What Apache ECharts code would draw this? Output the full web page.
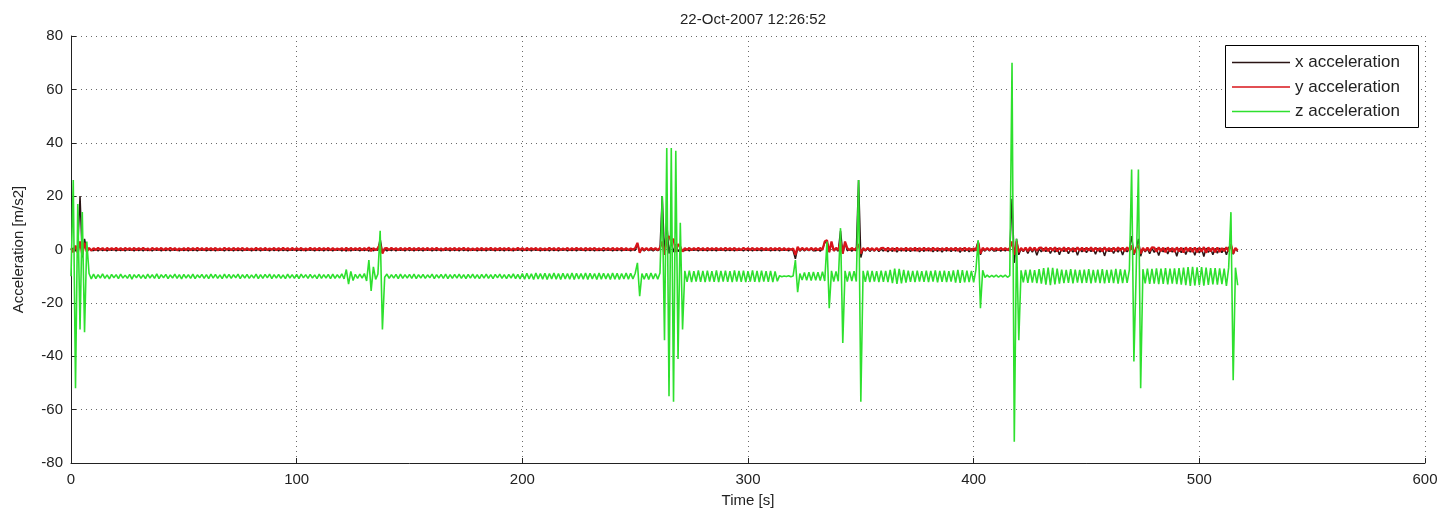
<!DOCTYPE html>
<html><head><meta charset="utf-8">
<script src="https://cdn.jsdelivr.net/npm/echarts@6/dist/echarts.min.js"></script>
<style>html,body{margin:0;padding:0;background:#fff}#c{width:1443px;height:513px}</style>
</head><body><div id="c"></div>
<script>
const titleText = '22-Oct-2007 12:26:52';
const xAxisName = 'Time [s]';
const yAxisName = 'Acceleration [m/s2]';
const seriesNames = ['x acceleration', 'y acceleration', 'z acceleration'];
const sampleStep = 1; // seconds between samples, sample i is at time i*sampleStep
const xTicks = [0, 100, 200, 300, 400, 500, 600];
const yTicks = [-80, -60, -40, -20, 0, 20, 40, 60, 80];

const xAcc = [
-0.3,0.5,-0.6,0.8,20.0,-3.0,4.0,-0.5,0.2,-0.4,
-0.4,0.1,-0.5,0.2,-0.4,0.0,-0.5,0.1,-0.3,0.1,
-0.5,0.0,-0.4,0.2,-0.5,0.1,-0.3,0.0,-0.5,0.2,
-0.4,0.1,-0.5,0.2,-0.4,0.0,-0.5,0.1,-0.3,0.1,
-0.5,0.0,-0.4,0.2,-0.5,0.1,-0.3,0.0,-0.5,0.2,
-0.4,0.1,-0.5,0.2,-0.4,0.0,-0.5,0.1,-0.3,0.1,
-0.5,0.0,-0.4,0.2,-0.5,0.1,-0.3,0.0,-0.5,0.2,
-0.4,0.1,-0.5,0.2,-0.4,0.0,-0.5,0.1,-0.3,0.1,
-0.5,0.0,-0.4,0.2,-0.5,0.1,-0.3,0.0,-0.5,0.2,
-0.4,0.1,-0.5,0.2,-0.4,0.0,-0.5,0.1,-0.3,0.1,
-0.5,0.0,-0.4,0.2,-0.5,0.1,-0.3,0.0,-0.5,0.2,
-0.4,0.1,-0.5,0.2,-0.4,0.0,-0.5,0.1,-0.3,0.1,
-0.5,0.0,-0.6,0.3,-0.5,0.1,-0.3,0.0,-0.5,0.2,
-0.4,0.1,-0.6,0.5,-0.5,0.1,-0.3,4.0,-1.0,0.1,
-0.5,0.0,-0.4,0.2,-0.5,0.1,-0.3,0.0,-0.5,0.2,
-0.4,0.1,-0.5,0.2,-0.4,0.0,-0.5,0.1,-0.3,0.1,
-0.5,0.0,-0.4,0.2,-0.5,0.1,-0.3,0.0,-0.5,0.2,
-0.4,0.1,-0.5,0.2,-0.4,0.0,-0.5,0.1,-0.3,0.1,
-0.5,0.0,-0.4,0.2,-0.5,0.1,-0.3,0.0,-0.5,0.2,
-0.4,0.1,-0.5,0.2,-0.4,0.0,-0.5,0.1,-0.3,0.1,
-0.5,0.0,-0.4,0.2,-0.5,0.1,-0.3,0.0,-0.5,0.2,
-0.4,0.1,-0.5,0.2,-0.4,0.0,-0.5,0.1,-0.3,0.1,
-0.5,0.0,-0.4,0.2,-0.5,0.1,-0.3,0.0,-0.5,0.2,
-0.4,0.1,-0.5,0.2,-0.4,0.0,-0.5,0.1,-0.3,0.1,
-0.5,0.0,-0.4,0.2,-0.5,0.1,-0.3,0.0,-0.5,0.2,
-0.4,2.0,-0.8,0.1,-0.5,0.2,-0.4,0.0,-0.5,0.1,
-0.4,0.1,20.0,-2.0,10.0,-1.5,3.0,-1.0,2.0,-0.8,
0.5,-0.6,-0.4,0.2,-0.5,0.1,-0.3,0.0,-0.5,0.2,
-0.4,0.1,-0.5,0.2,-0.4,0.0,-0.5,0.1,-0.3,0.1,
-0.5,0.0,-0.4,0.2,-0.5,0.1,-0.3,0.0,-0.5,0.2,
-0.4,0.1,-0.5,0.2,-0.4,0.0,-0.5,0.1,-0.3,0.1,
-0.5,0.0,-0.4,0.2,-0.5,0.1,-0.3,0.0,-0.5,0.2,
-0.5,-3.5,0.5,-0.6,0.2,-0.5,0.1,-0.4,0.2,-0.5,
-0.5,0.1,-0.6,0.2,2.5,3.0,-1.0,2.5,-0.5,0.2,
-0.6,7.0,-1.5,2.5,-0.5,0.1,-0.6,0.2,-0.5,26.0,
-3.0,0.2,-0.5,0.3,-0.7,0.2,-0.6,0.3,-0.8,0.2,
-0.6,0.3,-0.9,0.2,-0.7,0.4,-1.0,0.2,-0.6,0.3,
-0.7,0.2,-0.8,0.3,-0.6,0.4,-0.9,0.2,-0.7,0.3,
-0.6,0.3,-0.9,0.2,-0.7,0.4,-1.0,0.2,-0.6,0.3,
-0.8,0.2,-0.6,0.3,-1.1,0.4,-0.7,0.2,-0.9,0.3,
-0.7,0.3,3.0,-2.0,0.2,-0.6,0.3,-0.5,0.2,-0.6,
-0.5,0.2,-0.6,0.1,-0.5,0.2,-0.6,19.0,-5.0,4.0,
-2.0,0.3,-0.8,0.4,-1.5,0.3,-1.0,0.5,-2.2,0.3,
-0.9,0.4,-0.8,0.4,-1.5,0.3,-1.0,0.5,-2.0,0.3,
-0.8,0.4,-1.6,0.3,-1.0,0.5,-2.2,0.3,-0.9,0.4,
-1.2,0.4,-0.8,0.3,-1.8,0.5,-1.0,0.4,-2.4,0.3,
-0.8,0.4,-1.5,0.3,-1.0,0.5,-2.1,0.3,-0.9,0.4,
5.0,-2.0,0.3,4.0,-2.5,0.4,-0.9,0.3,-1.6,0.5,
-1.1,0.4,-2.3,0.3,-0.9,0.5,-1.7,0.4,-1.0,0.3,
-2.5,0.4,-1.2,0.5,-1.9,0.3,-1.0,0.4,-2.2,0.5,
-1.3,0.4,-2.6,0.5,-1.1,0.3,-2.0,0.4,-1.4,0.5,
-1.2,0.5,-2.0,0.6,2.0,-1.8,0.4,-0.8
];

const yAcc = [
0.5,-1.0,1.5,-1.2,3.0,-2.0,2.5,-0.8,0.6,-0.4,
0.5,-0.2,0.6,-0.1,0.5,-0.3,0.6,-0.2,0.5,-0.1,
0.6,-0.2,0.5,-0.3,0.6,-0.1,0.5,-0.2,0.6,-0.3,
0.5,-0.1,0.6,-0.2,0.4,-0.3,0.6,-0.1,0.5,-0.2,
0.6,-0.3,0.5,-0.1,0.6,-0.2,0.5,-0.3,0.4,-0.2,
0.5,-0.2,0.6,-0.3,0.5,-0.1,0.6,-0.2,0.5,-0.3,
0.6,-0.1,0.5,-0.2,0.6,-0.3,0.4,-0.2,0.6,-0.1,
0.5,-0.3,0.6,-0.2,0.5,-0.1,0.6,-0.3,0.5,-0.2,
0.4,-0.2,0.6,-0.1,0.5,-0.3,0.6,-0.2,0.4,-0.1,
0.6,-0.3,0.5,-0.2,0.6,-0.1,0.5,-0.3,0.6,-0.2,
0.5,-0.1,0.6,-0.3,0.4,-0.2,0.6,-0.1,0.5,-0.3,
0.6,-0.2,0.5,-0.1,0.6,-0.3,0.5,-0.2,0.4,-0.1,
0.5,-0.3,0.7,-0.4,0.6,-0.2,0.5,-0.1,0.6,-0.3,
0.5,-0.2,0.8,-0.6,0.5,-0.3,0.6,2.0,-1.5,0.4,
0.5,-0.2,0.6,-0.1,0.5,-0.3,0.6,-0.2,0.5,-0.1,
0.6,-0.2,0.5,-0.3,0.6,-0.1,0.5,-0.2,0.6,-0.3,
0.5,-0.1,0.6,-0.2,0.4,-0.3,0.6,-0.1,0.5,-0.2,
0.6,-0.3,0.5,-0.1,0.6,-0.2,0.5,-0.3,0.4,-0.2,
0.5,-0.2,0.6,-0.3,0.5,-0.1,0.6,-0.2,0.5,-0.3,
0.6,-0.1,0.5,-0.2,0.6,-0.3,0.4,-0.2,0.6,-0.1,
0.5,-0.3,0.6,-0.2,0.5,-0.1,0.6,-0.3,0.5,-0.2,
0.4,-0.2,0.6,-0.1,0.5,-0.3,0.6,-0.2,0.4,-0.1,
0.6,-0.3,0.5,-0.2,0.6,-0.1,0.5,-0.3,0.6,-0.2,
0.5,-0.1,0.6,-0.3,0.4,-0.2,0.6,-0.1,0.5,-0.3,
0.6,-0.2,0.5,-0.1,0.6,-0.3,0.5,-0.2,0.4,-0.1,
0.5,2.5,-1.2,0.6,-0.2,0.5,-0.3,0.6,-0.1,0.5,
-0.2,0.6,3.0,-2.0,4.0,5.0,3.0,4.0,-1.0,2.0,
1.0,-0.8,0.5,-0.2,0.6,-0.3,0.5,-0.1,0.6,-0.2,
0.5,-0.3,0.6,-0.2,0.5,-0.1,0.6,-0.3,0.5,-0.2,
0.6,-0.1,0.5,-0.2,0.6,-0.3,0.4,-0.2,0.6,-0.1,
0.5,-0.2,0.6,-0.3,0.5,-0.1,0.6,-0.2,0.5,-0.3,
0.6,-0.2,0.5,-0.1,0.6,-0.3,0.5,-0.2,0.4,-0.1,
0.4,-2.0,1.0,-0.3,0.6,-0.2,0.5,-0.3,0.6,-0.2,
0.5,-0.3,0.6,-0.2,3.0,3.5,-1.0,3.0,-0.5,0.6,
-0.2,3.0,-1.5,3.0,0.5,-0.3,0.6,-0.2,0.5,2.0,
-1.5,0.5,-0.3,0.6,-0.2,0.5,-0.4,0.6,-0.3,0.5,
0.6,-0.4,0.7,-0.3,0.6,-0.5,0.7,-0.3,0.5,-0.4,
0.7,-0.3,0.6,-0.4,0.7,-0.5,0.6,-0.3,0.7,-0.4,
0.6,-0.5,0.7,-0.3,0.6,-0.4,0.5,-0.3,0.7,-0.4,
0.6,-0.3,0.7,-0.5,0.6,-0.4,0.7,-0.3,0.6,-0.5,
0.5,-0.4,2.5,-1.5,0.6,-0.2,0.5,-0.3,0.6,-0.2,
0.5,-0.3,0.6,-0.2,0.5,-0.3,0.6,3.0,-2.0,3.0,
-1.0,0.6,-0.5,0.7,-0.6,0.8,-0.4,0.7,-0.5,0.6,
0.7,-0.5,0.8,-0.6,0.7,-0.4,0.8,-0.7,0.6,-0.5,
0.8,-0.6,0.7,-0.5,0.6,-0.7,0.8,-0.4,0.7,-0.6,
0.7,-0.4,0.8,-0.6,0.7,-0.5,0.6,-0.7,0.8,-0.5,
0.6,-0.7,0.7,-0.5,0.8,-0.4,0.7,-0.6,0.8,-0.5,
1.5,-1.5,0.5,1.5,-1.5,0.6,-0.5,0.7,-0.6,0.8,
0.7,-0.8,0.8,-0.6,0.7,-1.0,0.8,-0.7,0.6,-0.9,
0.8,-0.7,0.7,-1.1,0.8,-0.6,0.7,-0.9,0.8,-1.0,
0.7,-0.8,0.9,-1.2,0.8,-0.7,0.7,-1.0,0.8,-0.9,
0.5,-0.6,0.8,-0.7,2.0,-1.5,0.6,-0.4
];

const zAcc = [
-10,26,-52,17,-30,14,-31,3,-9,-11,
-9.2,-10.9,-9.4,-10.7,-9.1,-10.8,-9.5,-11.0,-9.3,-10.6,
-9.4,-10.9,-9.2,-10.7,-9.6,-10.8,-9.3,-11.1,-9.4,-10.6,
-9.3,-10.8,-9.5,-10.9,-9.2,-10.7,-9.4,-10.8,-9.1,-10.9,
-9.4,-10.6,-9.3,-10.9,-9.5,-10.7,-9.2,-10.8,-9.4,-11.0,
-9.3,-10.7,-9.4,-10.8,-9.2,-10.9,-9.5,-10.6,-9.3,-10.8,
-9.4,-10.9,-9.2,-10.7,-9.3,-10.8,-9.5,-10.9,-9.2,-10.7,
-9.3,-10.8,-9.4,-10.6,-9.2,-10.9,-9.4,-10.7,-9.3,-10.8,
-9.5,-10.7,-9.2,-10.9,-9.4,-10.8,-9.3,-10.6,-9.2,-10.9,
-9.4,-10.7,-9.3,-10.8,-9.5,-10.9,-9.2,-10.7,-9.4,-10.8,
-9.3,-10.9,-9.2,-10.6,-9.4,-10.8,-9.3,-10.7,-9.5,-10.9,
-9.2,-10.8,-9.4,-10.7,-9.3,-10.9,-9.2,-10.8,-9.4,-10.7,
-9.1,-11.0,-7.5,-13.0,-8.2,-11.6,-9.3,-10.8,-9.2,-10.7,
-9.0,-11.8,-4.0,-15.5,-6.5,-11.2,-9.2,7.0,-30.0,-10.4,
-9.2,-10.8,-9.4,-10.7,-9.3,-10.9,-9.2,-10.8,-9.4,-10.7,
-9.3,-10.8,-9.2,-10.9,-9.4,-10.7,-9.3,-10.8,-9.5,-10.6,
-9.2,-10.9,-9.4,-10.7,-9.3,-10.8,-9.2,-10.9,-9.4,-10.8,
-9.3,-10.7,-9.2,-10.8,-9.4,-10.9,-9.3,-10.7,-9.2,-10.8,
-9.4,-10.9,-9.3,-10.7,-9.2,-10.8,-9.4,-10.9,-9.3,-10.6,
-9.2,-10.8,-9.4,-10.9,-9.3,-10.7,-9.1,-10.9,-9.3,-11.0,
-9.0,-11.1,-8.9,-11.0,-9.1,-11.2,-8.8,-11.0,-9.0,-11.1,
-8.9,-11.2,-9.0,-11.0,-8.8,-11.1,-9.0,-11.2,-8.9,-11.0,
-9.0,-11.1,-8.8,-11.2,-8.9,-11.0,-9.0,-11.1,-8.8,-11.2,
-8.9,-11.0,-9.0,-11.2,-8.8,-11.1,-8.9,-11.0,-9.0,-11.2,
-8.8,-11.1,-8.9,-11.2,-9.0,-11.0,-8.8,-11.1,-8.9,-11.0,
-9.0,-5.0,-17.5,-9.0,-11.1,-8.9,-11.2,-8.8,-11.0,-9.0,
-11.1,-8.8,20.0,-34.0,38.0,-55.0,38.0,-57.0,37.0,-41.0,
10.0,-30.0,-8.0,-12.1,-7.9,-12.2,-8.1,-12.0,-7.8,-12.1,
-8.0,-12.2,-7.9,-12.0,-8.1,-12.1,-7.8,-12.2,-8.0,-12.0,
-7.9,-12.1,-8.1,-12.2,-7.8,-12.0,-8.0,-12.1,-7.9,-12.2,
-8.1,-12.0,-7.8,-12.1,-8.0,-12.2,-7.9,-12.0,-8.1,-12.1,
-8.0,-12.2,-8.2,-11.9,-9.8,-10.2,-9.9,-10.1,-9.8,-10.2,
-9.9,-4.0,-16.0,-9.0,-11.4,-8.6,-11.5,-8.5,-11.6,-8.4,
-11.5,-8.5,-11.6,-8.3,-11.8,3.0,-22.0,-8.0,-12.0,-8.2,
-11.9,8.0,-35.0,-8.0,-12.0,-8.2,-11.8,-8.1,-12.0,26.0,
-57.0,-8.0,-12.1,-7.9,-12.2,-8.0,-12.0,-8.1,-12.2,-7.9,
-12.1,-8.0,-12.2,-7.6,-12.6,-7.2,-12.9,-7.3,-12.7,-7.6,
-12.4,-7.9,-12.1,-8.0,-12.2,-7.9,-12.0,-8.1,-12.1,-7.9,
-12.2,-8.0,-12.0,-7.8,-12.3,-8.0,-12.1,-7.9,-12.2,-8.1,
-12.0,-7.8,-12.4,-7.6,-12.5,-7.7,-12.3,-7.9,-12.2,-8.0,
-12.3,-7.6,3.5,-22.0,-7.8,-10.5,-9.6,-10.4,-9.7,-10.3,
-9.6,-10.4,-9.7,-10.3,-9.6,-10.4,-9.8,70.0,-72.0,4.0,
-34.0,-7.8,-12.3,-7.6,-12.5,-7.5,-12.4,-7.7,-12.6,-7.4,
-12.8,-7.0,-13.2,-6.8,-13.4,-6.9,-13.1,-7.2,-12.8,-7.5,
-12.6,-7.6,-12.5,-7.4,-12.7,-7.5,-12.4,-7.6,-12.6,-7.5,
-12.5,-7.4,-12.7,-7.6,-12.4,-7.5,-12.6,-7.4,-12.7,-7.6,
-12.5,-7.5,-12.6,-7.3,-12.8,-7.4,-12.6,-7.5,-12.5,-7.6,
30.0,-42.0,-9.0,30.0,-52.0,-7.4,-12.7,-7.2,-12.9,-7.3,
-12.8,-7.1,-13.0,-7.2,-12.9,-7.0,-13.1,-7.2,-12.8,-7.1,
-13.0,-7.0,-13.2,-6.8,-13.4,-6.6,-13.6,-6.5,-13.5,-6.7,
-13.4,-6.6,-13.5,-6.8,-13.3,-7.0,-13.1,-7.0,-13.2,-7.1,
-13.0,-7.2,-13.6,-6.8,14.0,-49.0,-6.8,-13.4
];

const seriesValues = [xAcc, yAcc, zAcc];
const seriesColors = ['#2a1414', '#d8141a', '#2ee02e'];
const seriesWidths = [1.5, 2.2, 1.6];

const toPairs = vals => vals.map((v, i) => [i * sampleStep, v]);

const chart = echarts.init(document.getElementById('c'), null, {renderer: 'canvas'});
const fontFam = '"Liberation Sans", Arial, sans-serif';
const gridLine = {show: true, lineStyle: {color: '#6a6a6a', type: [1, 4], width: 1}};

chart.setOption({
  animation: false,
  backgroundColor: '#fff',
  textStyle: {fontFamily: fontFam},
  title: {
    text: titleText, left: 748, top: 7, textAlign: 'center',
    textStyle: {fontSize: 15, fontWeight: 'normal', color: '#222', fontFamily: fontFam}
  },
  grid: {left: 71, right: 18, top: 36, bottom: 50},
  graphic: [{
    type: 'rect', left: 1225, top: 45, z: 90,
    shape: {width: 193, height: 82},
    style: {fill: '#fff', stroke: '#000', lineWidth: 1}
  }],
  legend: {
    data: seriesNames.map(n => ({name: n, icon: 'rect'})),
    orient: 'vertical', left: 1232, top: 54, z: 100,
    padding: 0, itemWidth: 58, itemHeight: 1.5, itemGap: 7.5,
    textStyle: {fontSize: 17, color: '#222', fontFamily: fontFam}
  },
  xAxis: {
    type: 'value', min: xTicks[0], max: xTicks[xTicks.length - 1], interval: 100,
    name: xAxisName, nameLocation: 'middle', nameGap: 30,
    nameTextStyle: {fontSize: 15, color: '#222'},
    axisLine: {show: true, onZero: false, lineStyle: {color: '#222', width: 1}},
    axisTick: {show: true, inside: true, length: 5, lineStyle: {color: '#222'}},
    axisLabel: {fontSize: 15, color: '#222', margin: 9},
    splitLine: gridLine
  },
  yAxis: {
    type: 'value', min: yTicks[0], max: yTicks[yTicks.length - 1], interval: 20,
    name: yAxisName, nameLocation: 'middle', nameGap: 45,
    nameTextStyle: {fontSize: 15, color: '#222'},
    axisLine: {show: true, onZero: false, lineStyle: {color: '#222', width: 1}},
    axisTick: {show: true, inside: true, length: 5, lineStyle: {color: '#222'}},
    axisLabel: {fontSize: 15, color: '#222', margin: 8},
    splitLine: gridLine
  },
  series: seriesNames.map((name, k) => ({
    name, type: 'line', data: toPairs(seriesValues[k]),
    symbol: 'none', showSymbol: false, sampling: null,
    lineStyle: {color: seriesColors[k], width: seriesWidths[k]},
    itemStyle: {color: seriesColors[k]},
    z: 2 + k
  }))
});
</script></body></html>
